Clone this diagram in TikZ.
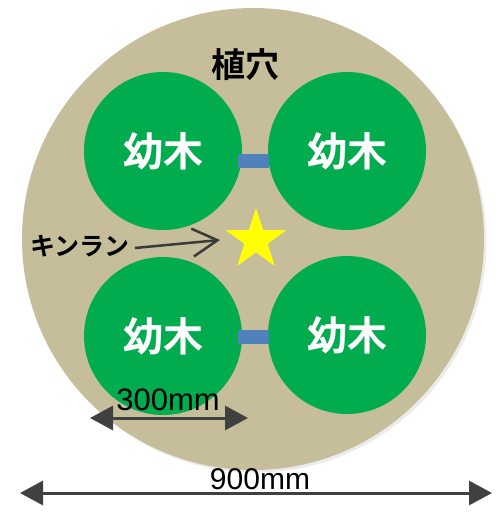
\documentclass[tikz,border=0pt]{standalone}
\usepackage{fontspec}
\setmainfont{Liberation Sans}
\newfontfamily\jpfont{Noto Sans CJK JP}
\newfontfamily\jpbold{Noto Sans CJK JP Bold}
\usetikzlibrary{arrows.meta,shapes.geometric}
\definecolor{holetan}{RGB}{198,190,154}
\definecolor{treegreen}{RGB}{0,172,78}
\definecolor{barblue}{RGB}{79,129,189}
\definecolor{arrowgray}{RGB}{64,64,64}
\definecolor{starYellow}{RGB}{255,255,0}
\tikzset{
  tree/.style={circle, fill=treegreen, minimum size=158pt, inner sep=0pt,
    text=white, font=\jpbold\fontsize{40}{44}\selectfont},
  barline/.style={barblue, line width=14pt},
  dimarrow/.style={arrowgray, line width=3pt,
    {Triangle[length=23pt,width=24pt]}-{Triangle[length=23pt,width=24pt]}},
  label/.style={inner sep=0pt, text=black}
}
\begin{document}
\begin{tikzpicture}[x=1pt,y=-1pt]
\useasboundingbox (0,0) rectangle (500,517);
% shadow + planting hole
\fill[black!8] (255.5,241.5) circle (231);
\node[circle, fill=holetan, minimum size=462pt, inner sep=0pt] (hole) at (253,239) {};
\node[label, font=\jpbold\fontsize{34}{38}\selectfont] (holelabel) at (245,65) {植穴};
% seedlings
\node[tree] (tl) at (163,151) {幼木};
\node[tree] (tr) at (347,151) {幼木};
\node[tree] (bl) at (163,336) {幼木};
\node[tree] (br) at (347,335) {幼木};
% bars
\draw[barline] ([xshift=-4pt,yshift=-10pt]tl.east) -- ([xshift=1pt,yshift=-10pt]tr.west);
\draw[barline] ([xshift=-4pt,yshift=-0.5pt]bl.east) -- ([xshift=1pt,yshift=-1.5pt]br.west);
% star
\node[star, star points=5, star point ratio=2.618, minimum size=64pt, inner sep=0pt,
  fill=starYellow] (kstar) at (256,240) {};
% kinran label
\node[label, font=\jpbold\fontsize{25}{30}\selectfont] (kinran) at (80,246) {キンラン};
\coordinate (ktip) at (220,240);
\draw[arrowgray!90!black, line width=2.5pt, -{Straight Barb[length=25pt,width=28pt,line width=2.5pt]}]
  ([xshift=5pt,yshift=-2pt]kinran.east) -- (ktip);
% dimensions
\coordinate (sa) at (90,418);
\coordinate (sb) at (248,418);
\draw[dimarrow] (sa) -- (sb);
\node[label, font=\fontsize{31}{34}\selectfont] (small) at (168,400) {300mm};
\coordinate (la) at (20,493);
\coordinate (lb) at (492,493);
\draw[dimarrow] (la) -- (lb);
\node[label, font=\fontsize{30}{34}\selectfont] (large) at (260,479) {900mm};
\end{tikzpicture}
\end{document}
